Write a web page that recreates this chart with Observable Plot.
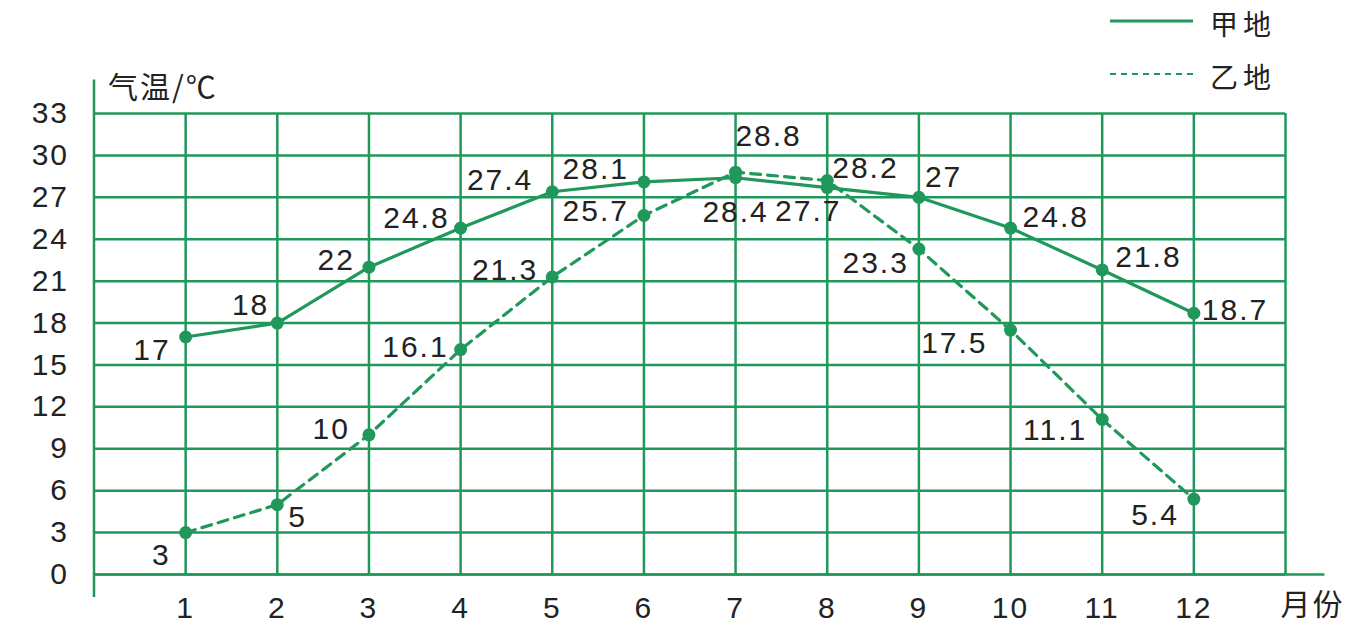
<!DOCTYPE html>
<html>
<head>
<meta charset="utf-8">
<script src="https://cdn.jsdelivr.net/npm/d3@7"></script>
<script src="https://cdn.jsdelivr.net/npm/@observablehq/plot@0.6"></script>
<style>
  html, body { margin: 0; padding: 0; background: #fff; }
  #wrap { position: relative; width: 1369px; height: 638px; overflow: hidden; }
  #legend { position: absolute; left: 1100px; top: 0; font-family: "Noto Sans CJK SC", sans-serif; font-size: 28px; color: #222; }
  .item { position: absolute; left: 0; width: 260px; height: 40px; }
  .item svg { position: absolute; left: 10px; top: 0; }
  .item span { position: absolute; left: 110px; top: 0; line-height: 40px; white-space: nowrap; letter-spacing: 5px; }
</style>
</head>
<body>
<div id="wrap">
  <div id="chart"></div>
  <div id="legend"></div>
</div>
<script>
// ---- data ----
const months = [1, 2, 3, 4, 5, 6, 7, 8, 9, 10, 11, 12];
const jiaTemps = [17, 18, 22, 24.8, 27.4, 28.1, 28.4, 27.7, 27, 24.8, 21.8, 18.7];
const yiTemps = [3, 5, 10, 16.1, 21.3, 25.7, 28.8, 28.2, 23.3, 17.5, 11.1, 5.4];
const seriesNames = ["甲地", "乙地"];
const yTicks = [0, 3, 6, 9, 12, 15, 18, 21, 24, 27, 30, 33];
const xTickLabels = ["1", "2", "3", "4", "5", "6", "7", "8", "9", "10", "11", "12"];
const xGrid = [1, 2, 3, 4, 5, 6, 7, 8, 9, 10, 11, 12, 13];
const yTitle = "气温/℃";
const xTitle = "月份";

// ---- presentation ----
const green = "#21985b";
const ink = "#222";
const numFont = "'Liberation Sans', Arial, sans-serif";
const cjkFont = "'Noto Sans CJK SC', sans-serif";
// label offsets [dx, dy, anchor]
const jiaOff = [[-15,13,"end"],[-8,-18,"end"],[-14,-7,"end"],[-11,-10,"end"],[-19,-11,"end"],[-15,-13,"end"],
                [0,35,"middle"],[-19,24,"middle"],[6,-20,"start"],[12,-11,"start"],[13,-13,"start"],[8,-3,"start"]];
const yiOff = [[-15,23,"end"],[11,13,"start"],[-19,-5,"end"],[-12,-2,"end"],[-14,-7,"end"],[-15,-4,"end"],
               [33,-36,"middle"],[5,-12,"start"],[-10,14,"end"],[-23,13,"end"],[-15,11,"end"],[-15,16,"end"]];

const jia = months.map((m, i) => ({month: m, temp: jiaTemps[i]}));
const yi = months.map((m, i) => ({month: m, temp: yiTemps[i]}));
const xMax = xGrid[xGrid.length - 1];

const labelMarks = [];
[[jia, jiaOff], [yi, yiOff]].forEach(([data, offs]) => {
  data.forEach((d, i) => {
    labelMarks.push(Plot.text([d], {
      x: "month", y: "temp", text: d => String(d.temp),
      dx: offs[i][0], dy: offs[i][1], textAnchor: offs[i][2],
      fontSize: 30, fill: ink, fontFamily: numFont
    }));
  });
});

const chart = Plot.plot({
  width: 1369,
  height: 638,
  marginLeft: 93.5,
  marginRight: 84,
  marginTop: 113,
  marginBottom: 64,
  style: {fontFamily: numFont, letterSpacing: "2px", color: ink, background: "#fff"},
  x: {domain: [0, xMax]},
  y: {domain: [0, 33]},
  marks: [
    Plot.ruleY(yTicks, {x1: 0, x2: xMax, stroke: green, strokeWidth: 2.5}),
    Plot.ruleX(xGrid, {y1: 0, y2: 33, stroke: green, strokeWidth: 2.5}),
    Plot.ruleY([0], {x1: 0, x2: xMax + 0.43, stroke: green, strokeWidth: 2.5}),
    Plot.ruleX([0], {y1: -1.65, y2: 35.4, stroke: green, strokeWidth: 2.5}),
    Plot.axisY(yTicks, {tickSize: 0, tickPadding: 25, fontSize: 30, fill: ink, label: null}),
    Plot.axisX(months, {tickSize: 0, tickPadding: 22, fontSize: 30, fill: ink, label: null,
      tickFormat: (d, i) => xTickLabels[i]}),
    Plot.line(yi, {x: "month", y: "temp", stroke: green, strokeWidth: 3.2, strokeDasharray: "10 7"}),
    Plot.line(jia, {x: "month", y: "temp", stroke: green, strokeWidth: 3.2}),
    Plot.dot(yi, {x: "month", y: "temp", r: 6.5, fill: green}),
    Plot.dot(jia, {x: "month", y: "temp", r: 6.5, fill: green}),
    ...labelMarks,
    Plot.text([yTitle], {frameAnchor: "top-left", dx: 14, dy: -37, textAnchor: "start",
      fontSize: 30, fill: ink, fontFamily: cjkFont}),
    Plot.text([xTitle], {frameAnchor: "bottom-right", dx: -5, dy: 40, textAnchor: "start",
      fontSize: 30, fill: ink, fontFamily: cjkFont})
  ]
});
document.getElementById("chart").appendChild(chart);

// legend
const legend = document.getElementById("legend");
seriesNames.forEach((name, i) => {
  const item = document.createElement("div");
  item.className = "item";
  item.style.top = (i === 0 ? 3 : 56) + "px";
  const dash = i === 0 ? "" : ` stroke-dasharray="6 5"`;
  const sw = i === 0 ? 3 : 2.2;
  item.innerHTML = `<svg width="90" height="40"><line x1="0" x2="83" y1="18" y2="18" stroke="${green}" stroke-width="${sw}"${dash}/></svg><span>${name}</span>`;
  legend.appendChild(item);
});
</script>
</body>
</html>
